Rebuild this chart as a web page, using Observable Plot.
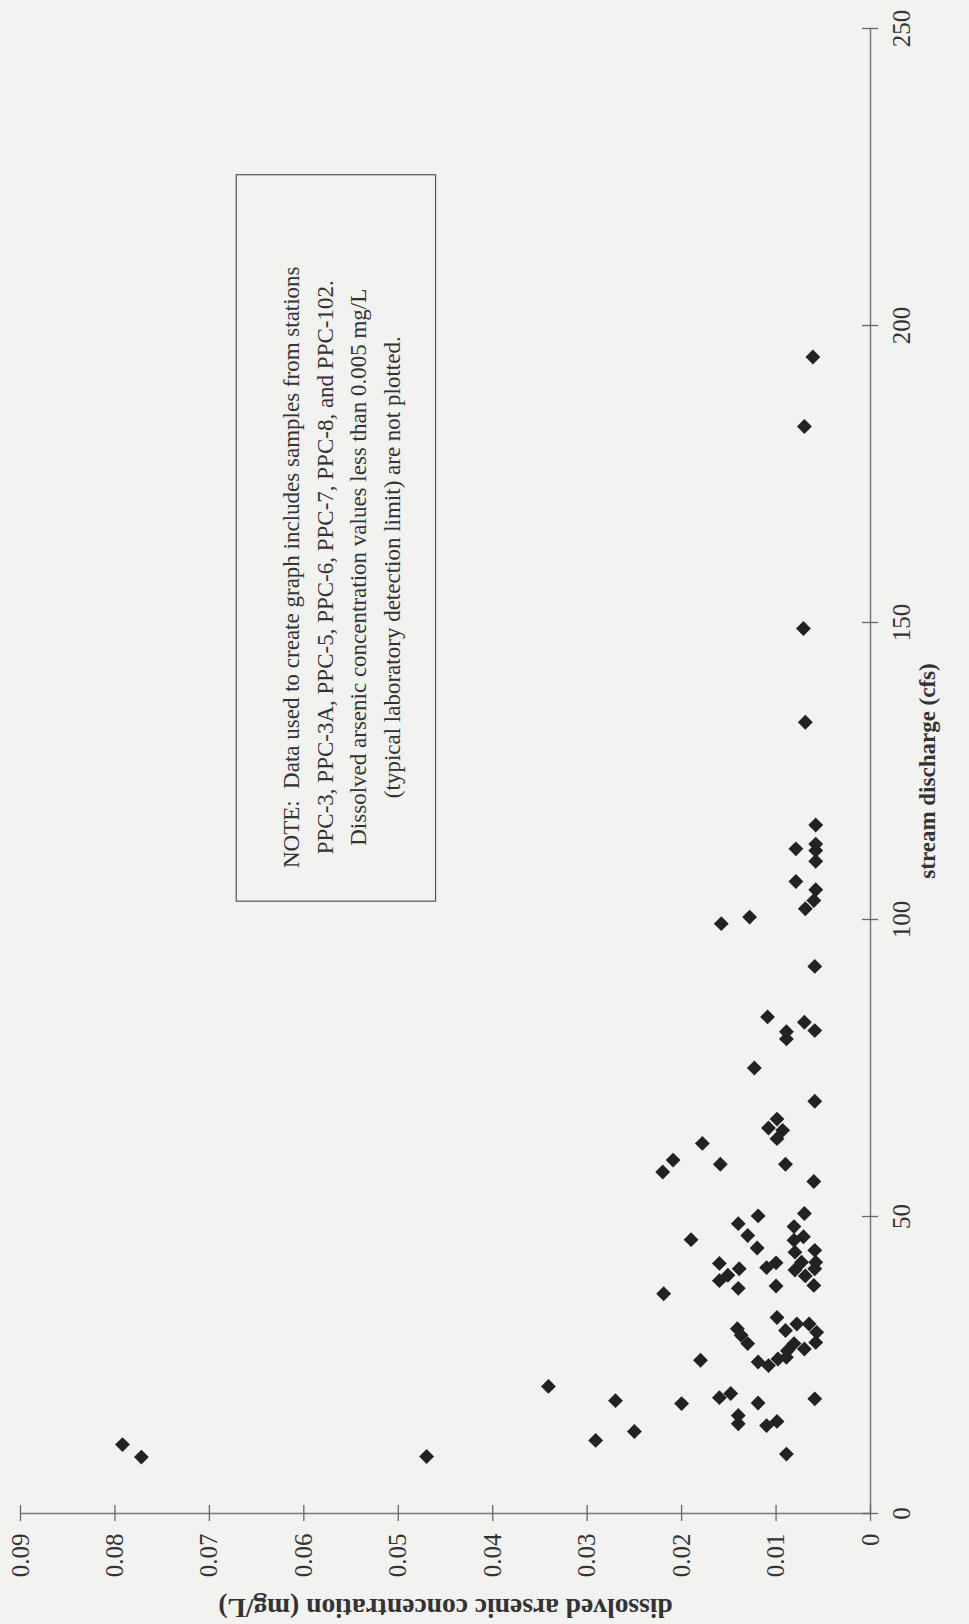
<!DOCTYPE html>
<html>
<head>
<meta charset="utf-8">
<script src="https://cdn.jsdelivr.net/npm/d3@7"></script>
<script src="https://cdn.jsdelivr.net/npm/@observablehq/plot@0.6"></script>
<style>
  html, body { margin: 0; padding: 0; background: #f2f2f1; }
  #chart svg { display: block; }
</style>
</head>
<body>
<div id="chart"></div>
<script>
// Dissolved arsenic concentration (mg/L) of each sample
const concentration = [
  0.0792, 0.0772, 0.0470, 0.0341, 0.0291, 0.0270, 0.0250, 0.0200, 0.0160, 0.0148,
  0.0119, 0.0140, 0.0140, 0.0110, 0.0099, 0.0089, 0.0059, 0.0180, 0.0119, 0.0108,
  0.0098, 0.0089, 0.0090, 0.0078, 0.0065, 0.0057, 0.0058, 0.0070, 0.0081, 0.0088,
  0.0141, 0.0137, 0.0130, 0.0099, 0.0219, 0.0160, 0.0139, 0.0151, 0.0160, 0.0140,
  0.0110, 0.0100, 0.0100, 0.0070, 0.0081, 0.0071, 0.0081, 0.0059, 0.0080, 0.0073,
  0.0058, 0.0080, 0.0059, 0.0069, 0.0060, 0.0190, 0.0130, 0.0120, 0.0140, 0.0119,
  0.0060, 0.0090, 0.0159, 0.0220, 0.0209, 0.0178, 0.0108, 0.0099, 0.0093, 0.0099,
  0.0059, 0.0123, 0.0109, 0.0089, 0.0089, 0.0070, 0.0059, 0.0059, 0.0158, 0.0128,
  0.0069, 0.0060, 0.0058, 0.0079, 0.0058, 0.0058, 0.0058, 0.0079, 0.0058, 0.0069,
  0.0071, 0.0070, 0.0061
];
// Stream discharge (cfs) of each sample
const discharge = [
  11.6, 9.5, 9.6, 21.4, 12.3, 19.0, 13.8, 18.5, 19.5, 20.2,
  18.6, 16.5, 15.1, 14.8, 15.5, 10.0, 19.3, 25.8, 25.5, 24.9,
  26.0, 26.3, 30.8, 31.9, 31.9, 30.5, 28.8, 27.7, 28.6, 27.4,
  31.1, 30.0, 28.6, 33.0, 37.0, 42.1, 41.2, 40.1, 39.2, 37.9,
  41.4, 42.2, 38.3, 50.5, 48.3, 46.6, 46.0, 44.3, 44.0, 42.3,
  42.3, 41.0, 41.2, 40.0, 38.4, 46.1, 46.8, 44.7, 48.8, 50.1,
  55.9, 58.8, 58.8, 57.5, 59.5, 62.3, 64.9, 66.4, 64.5, 63.1,
  69.4, 75.0, 83.6, 81.1, 79.9, 82.7, 81.3, 92.1, 99.3, 100.4,
  101.8, 103.2, 105.0, 106.4, 109.8, 111.6, 112.7, 111.9, 115.9, 133.2,
  149.0, 183.0, 194.7
];
const concTicks = [0, 0.01, 0.02, 0.03, 0.04, 0.05, 0.06, 0.07, 0.08, 0.09];
const concTickLabels = ["0", "0.01", "0.02", "0.03", "0.04", "0.05", "0.06", "0.07", "0.08", "0.09"];
const dischargeTicks = [0, 50, 100, 150, 200, 250];
const dischargeTickLabels = ["0", "50", "100", "150", "200", "250"];
const concTitle = "dissolved arsenic concentration (mg/L)";
const dischargeTitle = "stream discharge (cfs)";
const noteLines = [
  "NOTE:\u00a0 Data used to create graph includes samples from stations",
  "PPC-3, PPC-3A, PPC-5, PPC-6, PPC-7, PPC-8, and PPC-102.",
  "Dissolved arsenic concentration values less than 0.005 mg/L",
  "(typical laboratory detection limit) are not plotted."
];
// note box extent, in data units (concentration, discharge)
const noteBox = [{c1: 0.0671, c2: 0.0460, q1: 103.0, q2: 225.3}];
const noteAnchor = [{c: 0.0563, q: 159.3}];

const samples = concentration.map((c, i) => ({c, q: discharge[i]}));
const serif = "'Liberation Serif', 'Times New Roman', serif";
const ink = "#2b2b2b";

const chart = Plot.plot({
  width: 969,
  height: 1624,
  marginLeft: 20,
  marginRight: 99,
  marginTop: 28,
  marginBottom: 111,
  style: {background: "#f2f2f1", fontFamily: serif, color: ink},
  x: {domain: [0, 0.09], reverse: true, axis: null},
  y: {domain: [0, 250], axis: null},
  marks: [
    // note box
    Plot.rect(noteBox, {x1: "c1", x2: "c2", y1: "q1", y2: "q2", fill: "none", stroke: "#555", strokeWidth: 1.2}),
    Plot.text(noteAnchor, {x: "c", y: "q", text: () => noteLines.join("\n"), rotate: -90,
      fontSize: 23, lineHeight: 1.47, textAnchor: "middle", lineAnchor: "middle", fill: "#333"}),
    // axis lines
    Plot.ruleY([0], {stroke: "#777", strokeWidth: 1.5}),
    Plot.ruleX([0], {stroke: "#777", strokeWidth: 1.5}),
    // crossing tick marks
    Plot.ruleX(concTicks, {x: d => d, y1: 0, y2: 0, insetTop: -8, insetBottom: -8, stroke: "#666", strokeWidth: 1.3}),
    Plot.ruleY(dischargeTicks, {y: d => d, x1: 0, x2: 0, insetLeft: -8, insetRight: -8, stroke: "#666", strokeWidth: 1.3}),
    // tick labels
    Plot.text(concTicks, {x: d => d, text: (d, i) => concTickLabels[i], frameAnchor: "bottom", dy: 20,
      rotate: -90, textAnchor: "end", lineAnchor: "middle", fontSize: 25, fill: "#333"}),
    Plot.text(dischargeTicks, {y: d => d, text: (d, i) => dischargeTickLabels[i], frameAnchor: "right", dx: 31,
      rotate: -90, textAnchor: "middle", lineAnchor: "middle", fontSize: 25, fill: "#333"}),
    // axis titles
    Plot.text([concTitle], {frameAnchor: "bottom", dy: 94, rotate: 180, textAnchor: "middle", lineAnchor: "middle",
      fontSize: 27.5, fontWeight: "bold", fill: "#333"}),
    Plot.text([dischargeTitle], {frameAnchor: "right", dx: 57, rotate: -90, textAnchor: "middle", lineAnchor: "middle",
      fontSize: 23, fontWeight: "bold", fill: "#333"}),
    // samples
    Plot.dot(samples, {x: "c", y: "q", symbol: "diamond2", r: 6.7, fill: "#222", stroke: "none"})
  ]
});
document.getElementById("chart").append(chart);
</script>
</body>
</html>
